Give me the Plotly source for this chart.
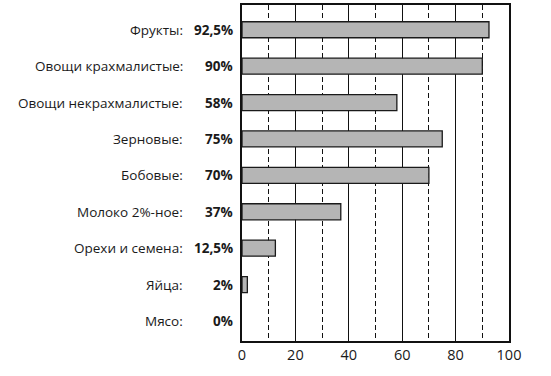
import plotly.graph_objects as go

categories = ["Фрукты:", "Овощи крахмалистые:", "Овощи некрахмалистые:", "Зерновые:",
              "Бобовые:", "Молоко 2%-ное:", "Орехи и семена:", "Яйца:", "Мясо:"]
values = [92.5, 90, 58, 75, 70, 37, 12.5, 2, 0]
pct_labels = ["92,5%", "90%", "58%", "75%", "70%", "37%", "12,5%", "2%", "0%"]
x_ticks = [0, 20, 40, 60, 80, 100]

fig = go.Figure()
fig.add_trace(go.Bar(
    x=values, y=categories, orientation="h", width=0.44,
    marker=dict(color="#b5b5b5",
                line=dict(color="#1a1a1a", width=[1.3 if v > 0 else 0 for v in values])),
    hoverinfo="skip",
))

annotations = []
for cat, p in zip(categories, pct_labels):
    annotations.append(dict(x=0, xref="paper", y=cat, yref="y", text=cat, showarrow=False,
                            xanchor="right", xshift=-57,
                            font=dict(family="Open Sans", size=13.5, color="#1a1a1a")))
    annotations.append(dict(x=0, xref="paper", y=cat, yref="y", text="<b>" + p + "</b>",
                            showarrow=False, xanchor="right", xshift=-7,
                            font=dict(family="Open Sans", size=13.5, color="#1a1a1a")))

fig.update_layout(
    width=551, height=376,
    margin=dict(l=242, r=42, t=3, b=35),
    paper_bgcolor="white", plot_bgcolor="white",
    showlegend=False,
    annotations=annotations,
    xaxis=dict(range=[0, 100], tickvals=x_ticks, ticks="", showgrid=True,
               gridcolor="#111", gridwidth=1.2, zeroline=False,
               showline=True, linecolor="#111", linewidth=1.5, mirror=True,
               tickfont=dict(family="Open Sans", size=14.5, color="#1a1a1a"),
               minor=dict(dtick=10, tick0=0, showgrid=True, gridcolor="#111",
                          gridwidth=1.2, griddash="5px,3px"),
               fixedrange=True),
    yaxis=dict(type="category", range=[8.55, -0.68], showticklabels=False, ticks="",
               showgrid=False, zeroline=False,
               showline=True, linecolor="#111", linewidth=1.5, mirror=True,
               fixedrange=True),
    bargap=0.5,
)

fig.write_html("out.html", config={"displayModeBar": False},
               post_script="document.body.style.margin='0';")
